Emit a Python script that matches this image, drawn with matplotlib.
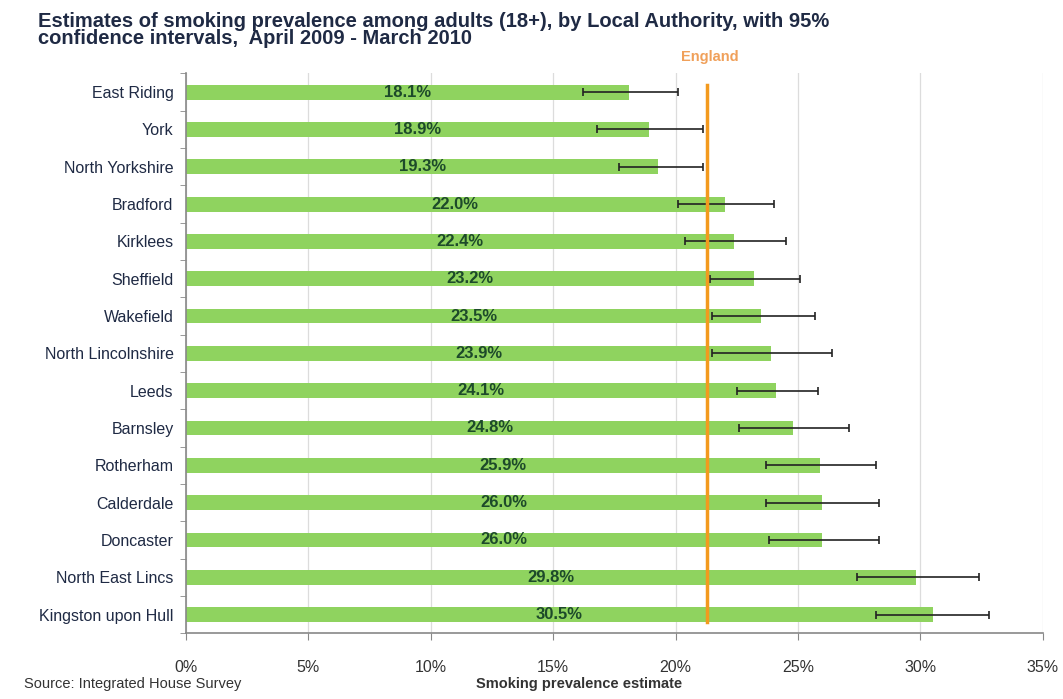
import numpy as np
import matplotlib.pyplot as plt
from matplotlib.ticker import FixedLocator, FuncFormatter

plt.rcParams['font.family'] = ['Liberation Sans', 'DejaVu Sans']

# data
areas = ['East Riding', 'York', 'North Yorkshire', 'Bradford', 'Kirklees',
         'Sheffield', 'Wakefield', 'North Lincolnshire', 'Leeds', 'Barnsley',
         'Rotherham', 'Calderdale', 'Doncaster', 'North East Lincs',
         'Kingston upon Hull']
prevalence = [18.1, 18.9, 19.3, 22.0, 22.4, 23.2, 23.5, 23.9, 24.1, 24.8,
              25.9, 26.0, 26.0, 29.8, 30.5]
ci_low = [16.2, 16.8, 17.7, 20.1, 20.4, 21.4, 21.5, 21.5, 22.5, 22.6,
          23.7, 23.7, 23.8, 27.4, 28.2]
ci_high = [20.1, 21.1, 21.1, 24.0, 24.5, 25.1, 25.7, 26.4, 25.8, 27.1,
           28.2, 28.3, 28.3, 32.4, 32.8]
england = 21.3
xticks = [0, 5, 10, 15, 20, 25, 30, 35]

bar_col = '#8fd35f'
label_col = '#1d4a2a'
navy = '#1f2a44'

fig = plt.figure(figsize=(10.63, 6.99), dpi=100)
ax = fig.add_axes([0.175, 0.094, 0.806, 0.801])

y = np.arange(len(areas))
prev = np.array(prevalence)
err = [prev - np.array(ci_low), np.array(ci_high) - prev]

ax.barh(y, prev, height=0.4, color=bar_col, zorder=2)
ax.errorbar(prev, y, xerr=err, fmt='none', ecolor='#222222', elinewidth=1.2,
            capsize=3, capthick=1.2, zorder=3)

for yi, v in zip(y, prevalence):
    ax.text(v / 2, yi, f'{v:.1f}%', ha='center', va='center', fontsize=12,
            fontweight='bold', color=label_col, zorder=4)

# England average line
ax.plot([england, england], [-0.2, len(areas) - 0.8], color='#f39a1e', lw=2.5,
        zorder=3, clip_on=False)
ax.text(england + 0.1, -0.95, 'England', ha='center', va='center', fontsize=10.5,
        fontweight='bold', color='#f0a05a')

ax.set_xlim(0, 35)
ax.set_ylim(len(areas) - 0.5, -0.5)
ax.xaxis.set_major_locator(FixedLocator(xticks))
ax.xaxis.set_major_formatter(FuncFormatter(lambda v, p: f'{v:.0f}%'))
ax.set_yticks(y)
ax.set_yticklabels(areas)
ax.yaxis.set_minor_locator(FixedLocator(np.arange(-0.5, len(areas), 1.0)))

ax.tick_params(axis='y', which='major', length=0, pad=9, labelsize=11.5,
               labelcolor=navy)
ax.tick_params(axis='y', which='minor', length=4, color='#888888')
ax.tick_params(axis='x', length=5, color='#888888', pad=14, labelsize=11.5,
               labelcolor='#333333')

ax.grid(axis='x', color='#dcdcdc', lw=0.9, zorder=0)
ax.set_axisbelow(True)
for s in ['top', 'right']:
    ax.spines[s].set_visible(False)
for s in ['left', 'bottom']:
    ax.spines[s].set_color('#888888')
    ax.spines[s].set_linewidth(1.2)

fig.text(0.036, 0.983, 'Estimates of smoking prevalence among adults (18+), by Local Authority, with 95%\n'
         'confidence intervals,  April 2009 - March 2010', ha='left', va='top',
         fontsize=14.5, fontweight='bold', color=navy, linespacing=0.9)
fig.text(0.023, 0.012, 'Source: Integrated House Survey', ha='left', va='bottom',
         fontsize=10.5, color='#333333')
fig.text(0.545, 0.012, 'Smoking prevalence estimate', ha='center', va='bottom',
         fontsize=10.5, fontweight='bold', color='#333333')

fig.savefig('out.png', dpi=100)
